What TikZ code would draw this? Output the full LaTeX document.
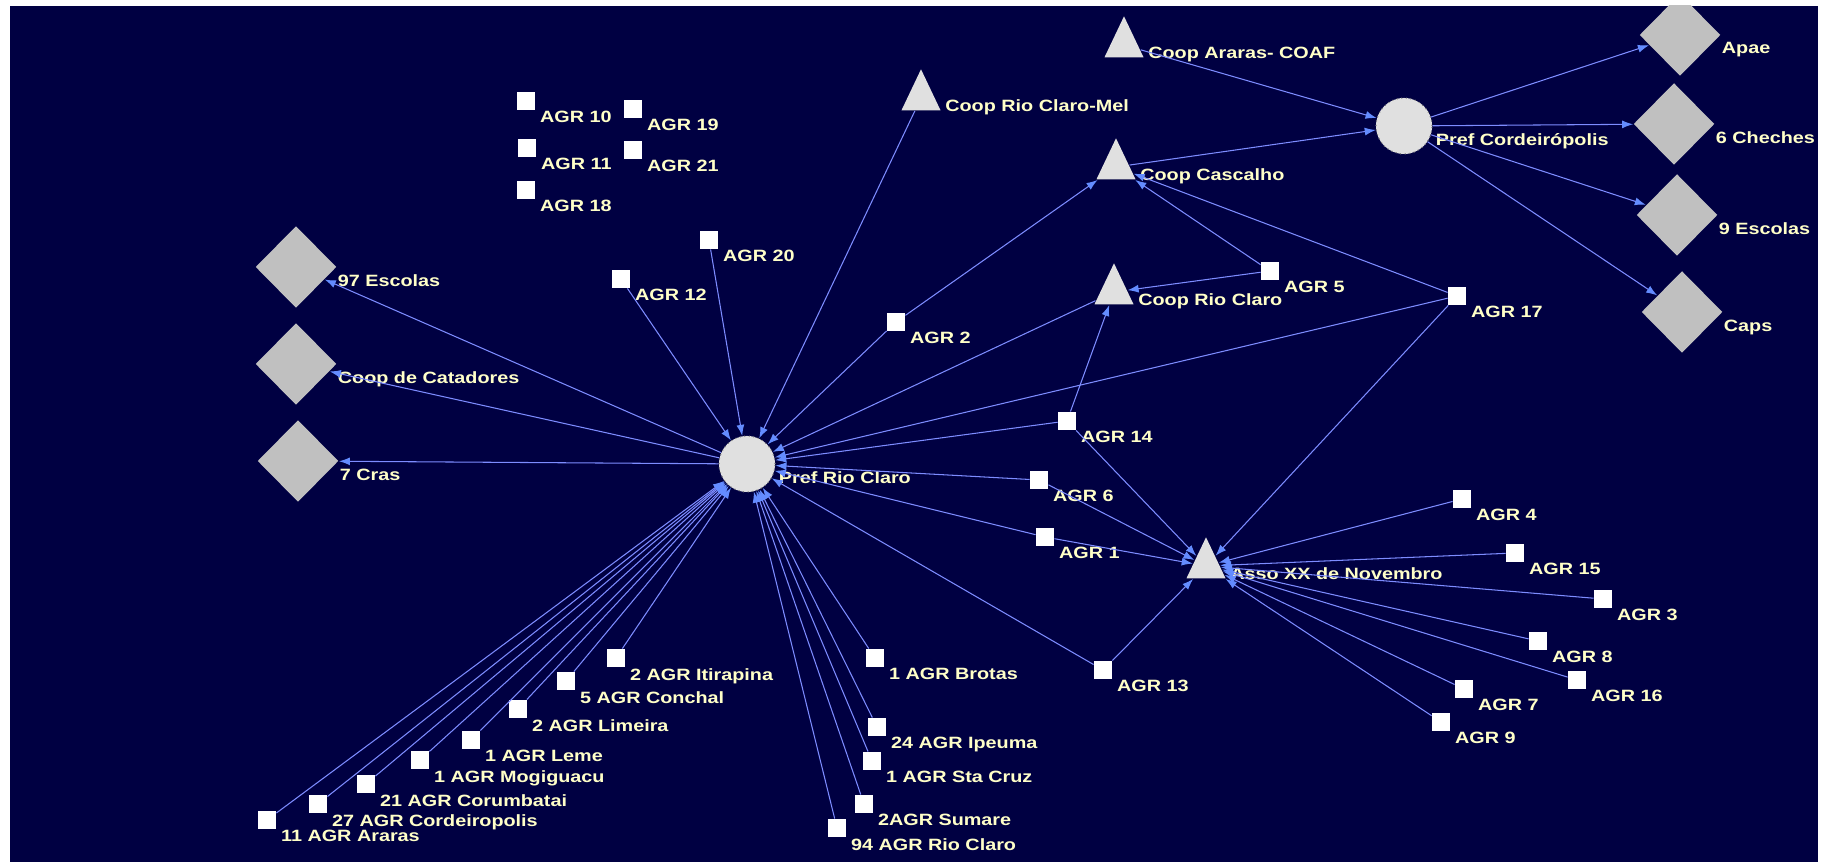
\documentclass[tikz,border=0pt]{standalone}
\usepackage{fontspec}
\setmainfont{Liberation Sans}[FakeStretch=1.21]
\usepackage{tikz}
\usetikzlibrary{shapes.geometric}
\usetikzlibrary{arrows.meta}

\definecolor{netbg}{RGB}{0,0,66}
\definecolor{linkblue}{RGB}{125,140,255}
\definecolor{tipblue}{RGB}{100,140,255}
\definecolor{lblyellow}{RGB}{255,255,200}
\definecolor{diagrey}{RGB}{192,192,192}
\definecolor{trigrey}{RGB}{224,224,224}

\tikzset{
  lbl/.style={text=lblyellow, font=\bfseries\fontsize{4.65}{5.5}\selectfont, inner sep=0pt},
  agr/.style={rectangle, fill=white, minimum size=0.175cm, inner sep=0pt,
    label={[lbl,anchor=north west,xshift=0.04cm]south east:#1}},
  coop/.style={isosceles triangle, isosceles triangle stretches, shape border rotate=90,
    minimum width=0.39cm, minimum height=0.41cm, inner sep=0pt, fill=trigrey,
    label={[lbl,anchor=base west,xshift=0.03cm]right corner:#1}},
  pref/.style={circle, fill=trigrey, draw=gray, densely dotted, line width=0.3pt,
    minimum size=0.56cm, inner sep=0pt,
    label={[lbl,anchor=north west,xshift=0.035cm]-14:#1}},
  inst/.style={diamond, fill=diagrey, minimum width=0.81cm, minimum height=0.82cm, inner sep=0pt,
    label={[lbl,anchor=north west,yshift=-0.07cm]east:#1}},
  link/.style={draw=linkblue, line width=0.3pt,
    -{Latex[length=0.11cm,width=0.08cm,color=tipblue]}}
}

\begin{document}
\begin{tikzpicture}[x=0.01cm,y=-0.01cm]
\useasboundingbox (0,0) rectangle (1830,862);
\fill[white] (0,0) rectangle (1830,862);
\fill[netbg] (10,6) rectangle (1818,862);
\begin{scope}
\clip (10,6) rectangle (1818,862);
% prefeituras
\node[pref=Pref Rio Claro] (pref_rc) at (747,464) {};
\node[pref=Pref Cordeirópolis] (pref_cd) at (1404,126) {};
% cooperativas
\node[coop=Coop Rio Claro-Mel] (mel) at (921,98) {};
\node[coop=Coop Araras- COAF] (coaf) at (1124,45) {};
\node[coop=Coop Cascalho] (cascalho) at (1116,167) {};
\node[coop=Coop Rio Claro] (coop_rc) at (1114,292) {};
\node[coop=Asso XX de Novembro] (asso) at (1206,566) {};
% instituicoes
\node[inst=97 Escolas] (escolas_97) at (296,267) {};
\node[inst=Coop de Catadores] (catadores) at (296,364) {};
\node[inst=7 Cras] (cras) at (298,461) {};
\node[inst=Apae] (apae) at (1680,35) {};
\node[inst=6 Cheches] (cheches) at (1674,124) {};
\node[inst=9 Escolas] (escolas_9) at (1677,215) {};
\node[inst=Caps] (caps) at (1682,312) {};
% agricultores
\node[agr=AGR 10] (agr_10) at (526,101) {};
\node[agr=AGR 19] (agr_19) at (633,109) {};
\node[agr=AGR 11] (agr_11) at (527,148) {};
\node[agr=AGR 21] (agr_21) at (633,150) {};
\node[agr=AGR 18] (agr_18) at (526,190) {};
\node[agr=AGR 20] (agr_20) at (709,240) {};
\node[agr=AGR 12] (agr_12) at (621,279) {};
\node[agr=AGR 2] (agr_2) at (896,322) {};
\node[agr=AGR 5] (agr_5) at (1270,271) {};
\node[agr=AGR 17] (agr_17) at (1457,296) {};
\node[agr=AGR 14] (agr_14) at (1067,421) {};
\node[agr=AGR 6] (agr_6) at (1039,480) {};
\node[agr=AGR 1] (agr_1) at (1045,537) {};
\node[agr=AGR 13] (agr_13) at (1103,670) {};
\node[agr=AGR 4] (agr_4) at (1462,499) {};
\node[agr=AGR 15] (agr_15) at (1515,553) {};
\node[agr=AGR 3] (agr_3) at (1603,599) {};
\node[agr=AGR 8] (agr_8) at (1538,641) {};
\node[agr=AGR 16] (agr_16) at (1577,680) {};
\node[agr=AGR 7] (agr_7) at (1464,689) {};
\node[agr=AGR 9] (agr_9) at (1441,722) {};
\node[agr=2 AGR Itirapina] (itirapina) at (616,658) {};
\node[agr=5 AGR Conchal] (conchal) at (566,681) {};
\node[agr=2 AGR Limeira] (limeira) at (518,709) {};
\node[agr=1 AGR Leme] (leme) at (471,740) {};
\node[agr=1 AGR Mogiguacu] (mogiguacu) at (420,760) {};
\node[agr=21 AGR Corumbatai] (corumbatai) at (366,784) {};
\node[agr=27 AGR Cordeiropolis] (cordeiropolis) at (318,804) {};
\node[agr=11 AGR Araras] (araras) at (267,820) {};
\node[agr=1 AGR Brotas] (brotas) at (875,658) {};
\node[agr=24 AGR Ipeuma] (ipeuma) at (877,727) {};
\node[agr=1 AGR Sta Cruz] (stacruz) at (872,761) {};
\node[agr=2AGR Sumare] (sumare) at (864,804) {};
\node[agr=94 AGR Rio Claro] (rioclaro) at (837,828) {};

\path[link]
  (agr_12) edge (pref_rc)
  (agr_20) edge (pref_rc)
  (mel) edge (pref_rc)
  (agr_2) edge (pref_rc)
         edge (cascalho)
  (coop_rc) edge (pref_rc)
  (agr_17) edge (pref_rc)
          edge (cascalho)
          edge (asso)
  (agr_14) edge (pref_rc)
          edge (coop_rc)
          edge (asso)
  (agr_6) edge (pref_rc)
         edge (asso)
  (agr_1) edge (pref_rc)
         edge (asso)
  (agr_13) edge (pref_rc)
          edge (asso)
  (agr_5) edge (cascalho)
         edge (coop_rc);
\path[link]
  (itirapina) edge (pref_rc)
  (conchal) edge (pref_rc)
  (limeira) edge (pref_rc)
  (leme) edge (pref_rc)
  (mogiguacu) edge (pref_rc)
  (corumbatai) edge (pref_rc)
  (cordeiropolis) edge (pref_rc)
  (araras) edge (pref_rc)
  (brotas) edge (pref_rc)
  (ipeuma) edge (pref_rc)
  (stacruz) edge (pref_rc)
  (sumare) edge (pref_rc)
  (rioclaro) edge (pref_rc);
\path[link]
  (pref_rc) edge (escolas_97)
           edge (catadores)
           edge (cras)
  (coaf) edge (pref_cd)
  (cascalho) edge (pref_cd)
  (pref_cd) edge (apae)
           edge (cheches)
           edge (escolas_9)
           edge (caps);
\path[link]
  (agr_4) edge (asso)
  (agr_15) edge (asso)
  (agr_3) edge (asso)
  (agr_8) edge (asso)
  (agr_16) edge (asso)
  (agr_7) edge (asso)
  (agr_9) edge (asso);
\end{scope}
\end{tikzpicture}
\end{document}
